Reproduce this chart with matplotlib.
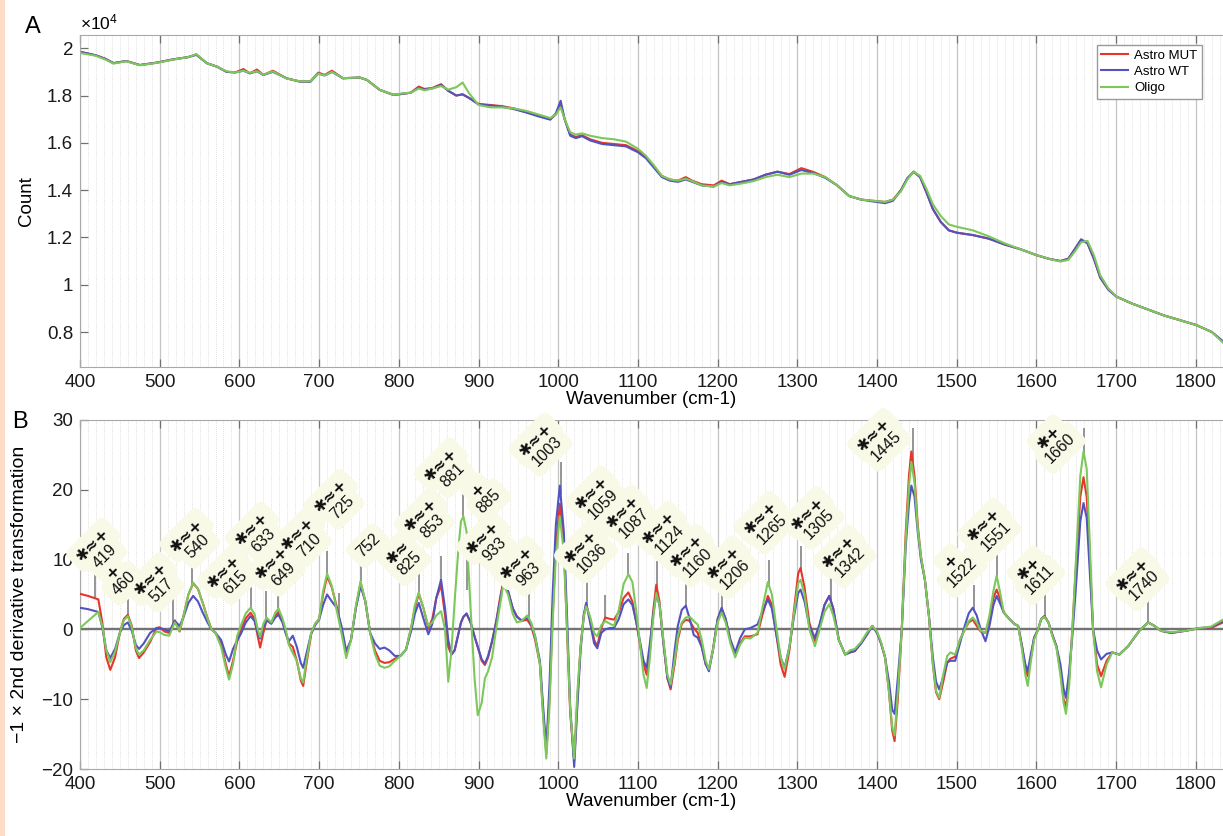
import numpy as np
import matplotlib.pyplot as plt
from matplotlib.patches import Rectangle
from matplotlib.ticker import MultipleLocator, FuncFormatter

plt.rcParams['font.family'] = ['Liberation Sans', 'DejaVu Sans']
plt.rcParams['mathtext.fontset'] = 'custom'
plt.rcParams['mathtext.rm'] = 'Liberation Sans'

series_names = ['Astro MUT', 'Astro WT', 'Oligo']
series_colors = ['#e8352b', '#5252c0', '#7cc85a']

# ---- panel A: raw spectra (counts x 1e4) ----
a_wn = [400, 420, 432, 442, 458, 475, 496, 517, 535, 546,
        559, 572, 584, 595, 605, 613, 622, 630, 642, 659,
        676, 689, 699, 707, 716, 730, 751, 760, 776, 793,
        802, 815, 825, 832, 842, 853, 862, 872, 880, 888,
        900, 915, 930, 945, 960, 975, 990, 997, 1003, 1008,
        1015, 1022, 1030, 1040, 1055, 1070, 1085, 1100, 1110, 1120,
        1130, 1140, 1150, 1160, 1168, 1180, 1195, 1205, 1215, 1230,
        1245, 1260, 1275, 1290, 1305, 1320, 1335, 1350, 1365, 1380,
        1395, 1410, 1420, 1430, 1438, 1446, 1454, 1462, 1470, 1480,
        1490, 1500, 1520, 1540, 1560, 1580, 1600, 1615, 1630, 1640,
        1648, 1656, 1664, 1672, 1680, 1690, 1700, 1720, 1740, 1760,
        1780, 1800, 1820, 1834]
a_mut = [1.985, 1.97, 1.955, 1.937, 1.946, 1.929, 1.939, 1.953, 1.962, 1.974,
         1.937, 1.922, 1.900, 1.898, 1.912, 1.894, 1.910, 1.887, 1.905, 1.873,
         1.859, 1.860, 1.897, 1.887, 1.905, 1.873, 1.876, 1.866, 1.824, 1.803,
         1.806, 1.812, 1.838, 1.828, 1.832, 1.848, 1.820, 1.800, 1.805, 1.790,
         1.765, 1.760, 1.755, 1.745, 1.730, 1.715, 1.700, 1.720, 1.765, 1.700,
         1.635, 1.625, 1.632, 1.615, 1.600, 1.595, 1.590, 1.565, 1.540, 1.500,
         1.460, 1.445, 1.440, 1.455, 1.440, 1.425, 1.420, 1.440, 1.425, 1.435,
         1.445, 1.465, 1.478, 1.468, 1.493, 1.477, 1.455, 1.420, 1.375, 1.360,
         1.355, 1.350, 1.360, 1.400, 1.450, 1.478, 1.455, 1.390, 1.320, 1.265,
         1.230, 1.220, 1.210, 1.195, 1.170, 1.150, 1.125, 1.110, 1.100, 1.110,
         1.150, 1.190, 1.175, 1.110, 1.030, 0.980, 0.950, 0.920, 0.895, 0.870,
         0.850, 0.830, 0.800, 0.760]
a_wt = [1.985, 1.97, 1.955, 1.937, 1.946, 1.929, 1.939, 1.953, 1.962, 1.972,
        1.937, 1.922, 1.900, 1.898, 1.905, 1.894, 1.902, 1.887, 1.900, 1.873,
        1.859, 1.858, 1.893, 1.885, 1.900, 1.873, 1.876, 1.866, 1.824, 1.803,
        1.806, 1.812, 1.833, 1.825, 1.830, 1.845, 1.820, 1.800, 1.805, 1.790,
        1.762, 1.758, 1.752, 1.742, 1.728, 1.712, 1.698, 1.725, 1.778, 1.700,
        1.630, 1.620, 1.628, 1.610, 1.595, 1.590, 1.585, 1.560, 1.535, 1.495,
        1.455, 1.440, 1.435, 1.445, 1.435, 1.420, 1.415, 1.435, 1.425, 1.435,
        1.445, 1.465, 1.478, 1.465, 1.485, 1.472, 1.452, 1.420, 1.375, 1.360,
        1.352, 1.345, 1.355, 1.400, 1.450, 1.478, 1.455, 1.390, 1.320, 1.265,
        1.230, 1.220, 1.210, 1.195, 1.170, 1.150, 1.125, 1.110, 1.100, 1.110,
        1.150, 1.192, 1.175, 1.110, 1.030, 0.980, 0.950, 0.920, 0.895, 0.870,
        0.850, 0.830, 0.800, 0.760]
a_oligo = [1.980, 1.968, 1.952, 1.935, 1.945, 1.928, 1.938, 1.952, 1.962, 1.975,
           1.937, 1.922, 1.902, 1.898, 1.905, 1.896, 1.903, 1.888, 1.902, 1.872,
           1.860, 1.860, 1.893, 1.885, 1.900, 1.874, 1.876, 1.866, 1.824, 1.803,
           1.808, 1.812, 1.830, 1.822, 1.830, 1.840, 1.825, 1.835, 1.855, 1.810,
           1.760, 1.750, 1.750, 1.745, 1.735, 1.720, 1.705, 1.720, 1.750, 1.700,
           1.645, 1.635, 1.640, 1.630, 1.620, 1.615, 1.605, 1.575, 1.545, 1.505,
           1.460, 1.445, 1.440, 1.448, 1.438, 1.420, 1.415, 1.430, 1.420, 1.428,
           1.438, 1.455, 1.465, 1.455, 1.470, 1.470, 1.455, 1.420, 1.375, 1.360,
           1.355, 1.350, 1.360, 1.395, 1.445, 1.478, 1.460, 1.405, 1.340, 1.290,
           1.255, 1.245, 1.230, 1.205, 1.175, 1.150, 1.125, 1.110, 1.098, 1.105,
           1.140, 1.180, 1.185, 1.125, 1.040, 0.985, 0.950, 0.920, 0.895, 0.870,
           0.850, 0.830, 0.800, 0.755]

# ---- panel B: -1 x 2nd derivative ----
b_wn = [400, 410, 423, 428, 433, 438, 444, 450, 455, 460,
        465, 470, 474, 480, 488, 496, 500, 506, 512, 519,
        525, 530, 536, 542, 548, 554, 560, 565, 570, 577,
        583, 587, 592, 597, 602, 608, 614, 619, 623, 626,
        630, 634, 640, 645, 649, 654, 658, 662, 667, 672,
        677, 680, 684, 690, 695, 700, 705, 710, 716, 722,
        728, 734, 740, 746, 752, 758, 764, 770, 776, 782,
        788, 795, 802, 809, 816, 820, 825, 831, 837, 842,
        847, 853, 858, 862, 866, 870, 875, 878, 881, 885,
        890, 895, 899, 904, 908, 912, 917, 922, 927, 931,
        937, 943, 948, 954, 961, 966, 971, 977, 981, 985,
        989, 993, 997, 1002, 1007, 1011, 1015, 1020, 1024, 1028,
        1032, 1035, 1040, 1045, 1049, 1054, 1059, 1065, 1070, 1076,
        1082, 1088, 1093, 1098, 1103, 1107, 1111, 1115, 1119, 1123,
        1127, 1132, 1137, 1141, 1146, 1150, 1155, 1160, 1165, 1170,
        1175, 1180, 1185, 1189, 1194, 1200, 1205, 1210, 1216, 1222,
        1228, 1234, 1241, 1250, 1256, 1263, 1268, 1274, 1279, 1284,
        1290, 1296, 1301, 1304, 1309, 1315, 1322, 1328, 1334, 1340,
        1345, 1352, 1360, 1366, 1372, 1380, 1387, 1394, 1400, 1405,
        1410, 1415, 1419, 1422, 1426, 1431, 1436, 1440, 1443, 1447,
        1451, 1455, 1460, 1465, 1470, 1474, 1478, 1483, 1488, 1492,
        1498, 1504, 1510, 1515, 1520, 1525, 1530, 1536, 1541, 1546,
        1550, 1554, 1559, 1566, 1572, 1577, 1582, 1586, 1589, 1593,
        1597, 1602, 1606, 1610, 1615, 1620, 1625, 1630, 1634, 1637,
        1641, 1645, 1650, 1655, 1659, 1663, 1667, 1671, 1676, 1681,
        1688, 1695, 1704, 1715, 1729, 1740, 1748, 1756, 1769, 1787,
        1805, 1819, 1834]
b_mut = [5.1, 4.8, 4.3, 1.0, -4.0, -5.8, -4.0, -0.5, 1.5, 2.1,
         0.5, -3.0, -4.1, -3.3, -1.8, 0.2, 0.3, -0.3, -0.5, 1.3,
         -0.3, 2.0, 5.0, 6.6, 5.8, 3.8, 1.6, 0.0, -0.5, -2.0,
         -5.0, -6.7, -4.5, -1.8, 0.0, 1.6, 2.4, 1.5, -1.0, -2.6,
         -0.5, 1.3, 1.0, 2.0, 2.5, 1.2, -0.5, -2.0, -2.5, -4.5,
         -7.3, -8.1, -5.0, -0.7, 0.8, 1.5, 5.0, 7.6, 6.0, 3.3,
         0.0, -3.4, -1.5, 3.0, 6.7, 4.0, -0.5, -3.0, -4.5, -4.8,
         -4.7, -4.2, -3.8, -2.9, 0.5, 3.0, 5.1, 3.0, 0.2, 1.5,
         4.5, 6.3, 2.0, -2.5, -3.6, -3.0, -0.5, 1.0, 1.8, 2.2,
         1.0, -1.0, -2.5, -4.5, -5.1, -4.0, -1.7, 1.0, 4.5, 6.9,
         5.5, 3.0, 1.9, 1.2, 1.4, 0.5, -1.5, -5.0, -12.0, -17.8,
         -10.0, 2.0, 12.0, 18.0, 12.0, 0.0, -12.0, -18.8, -10.0, -2.5,
         2.0, 3.6, 1.5, -1.5, -2.4, 0.2, 1.7, 1.5, 1.4, 2.5,
         4.5, 5.3, 4.0, 1.0, -2.5, -5.0, -6.5, -3.0, 2.5, 6.4,
         4.0, -2.0, -7.0, -8.6, -5.0, -1.5, 0.8, 1.4, 1.2, 0.2,
         -0.5, -2.5, -5.0, -5.7, -3.0, 1.5, 2.9, 1.5, -1.5, -3.6,
         -2.0, -1.0, -1.0, -0.7, 2.0, 4.8, 3.5, -1.0, -5.0, -6.8,
         -3.0, 3.0, 8.0, 8.8, 6.0, 1.0, -1.7, 0.5, 3.5, 4.8,
         3.0, -1.5, -3.6, -3.3, -3.1, -2.0, -0.8, 0.5, -0.5, -2.0,
         -4.0, -9.0, -14.5, -16.0, -10.0, 0.0, 14.0, 22.0, 25.5, 22.0,
         15.0, 10.5, 7.1, 2.0, -5.0, -9.0, -10.0, -7.5, -4.8, -4.2,
         -3.9, -1.5, 0.0, 1.0, 1.4, 0.5, -0.3, -0.5, 1.5, 4.5,
         5.7, 4.5, 2.4, 1.5, 0.8, 0.5, -2.5, -5.5, -6.7, -4.0,
         -1.2, 0.0, 1.5, 1.9, 1.0, -0.8, -2.4, -6.0, -10.0, -11.2,
         -7.0, 0.0, 10.0, 19.0, 21.8, 19.0, 10.0, 0.0, -5.0, -6.7,
         -4.5, -3.3, -3.6, -2.4, -0.2, 1.0, 0.5, -0.2, -0.5, -0.2,
         0.2, 0.2, 1.0]
b_wt = [3.1, 2.9, 2.5, 0.3, -3.0, -4.1, -2.8, -0.5, 0.6, 1.0,
        -0.2, -2.2, -2.8, -2.0, -0.5, 0.2, 0.2, 0.0, -0.3, 1.2,
        0.5, 1.8, 3.8, 4.8, 4.0, 2.4, 1.0, 0.0, -0.5, -1.5,
        -3.6, -4.6, -2.8, -1.6, -0.6, 1.0, 1.9, 1.2, -0.5, -1.3,
        0.3, 1.3, 0.8, 1.7, 2.1, 1.0, -0.5, -1.7, -0.9, -2.5,
        -4.8, -5.5, -3.5, -0.6, 0.6, 1.4, 3.5, 5.0, 4.0, 3.1,
        0.5, -3.1, -1.5, 3.0, 6.2, 4.0, -0.5, -2.0, -2.8, -2.6,
        -3.0, -3.8, -3.8, -2.9, 0.0, 2.2, 3.8, 1.5, -0.7, 0.8,
        4.5, 7.1, 3.0, -1.5, -3.6, -3.0, -0.5, 1.0, 1.8, 2.3,
        1.0, -1.0, -2.5, -4.3, -4.9, -3.8, -1.7, 1.0, 4.2, 6.7,
        5.5, 3.0, 1.8, 1.3, 1.7, 0.8, -1.0, -4.5, -11.0, -17.1,
        -8.0, 5.0, 15.0, 20.6, 14.0, 2.0, -11.0, -19.7, -11.0, -3.0,
        2.0, 3.8, 1.0, -2.0, -2.7, -0.5, 0.0, 0.2, 0.2, 1.5,
        3.6, 4.3, 3.5, 1.0, -2.0, -4.5, -5.5, -2.0, 2.0, 5.0,
        3.5, -2.0, -7.0, -8.3, -3.0, 0.5, 2.8, 3.4, 1.5, -0.8,
        -1.2, -2.5, -5.0, -6.0, -3.0, 1.5, 3.1, 1.5, -1.5, -3.3,
        -1.3, 0.0, 0.2, 0.7, 2.5, 4.3, 3.0, -1.0, -4.0, -5.5,
        -2.5, 2.0, 5.2, 5.7, 4.0, 0.5, -1.2, 0.8, 3.5, 4.8,
        3.0, -1.5, -3.6, -3.3, -3.1, -2.0, -0.8, 0.5, -0.5, -2.0,
        -4.0, -7.5, -11.5, -12.1, -7.0, 0.0, 12.0, 18.0, 20.6, 19.0,
        14.0, 10.0, 7.1, 2.0, -4.0, -7.5, -8.6, -6.8, -4.7, -4.5,
        -4.5, -2.0, 0.5, 2.3, 3.1, 2.0, 0.0, -1.7, 0.5, 3.5,
        4.8, 3.8, 2.4, 1.5, 0.8, 0.5, -2.5, -5.0, -6.0, -3.5,
        -1.2, 0.0, 1.5, 1.9, 1.0, -0.8, -2.4, -5.0, -8.5, -9.8,
        -6.0, -1.0, 7.0, 15.5, 18.1, 16.0, 8.0, 0.0, -3.0, -4.3,
        -3.5, -3.3, -3.6, -2.4, -0.2, 1.0, 0.5, -0.2, -0.5, -0.2,
        0.2, 0.3, 1.2]
b_oligo = [0.2, 1.2, 2.5, 0.5, -3.0, -4.7, -3.2, -0.5, 1.3, 1.9,
           0.3, -2.7, -3.6, -3.0, -1.5, -0.3, -0.4, -0.8, -0.9, 1.0,
           -0.2, 2.0, 5.0, 6.7, 5.8, 3.8, 1.5, 0.0, -0.5, -2.5,
           -5.5, -7.2, -5.0, -1.0, 0.6, 2.3, 3.1, 2.2, 0.0, -1.1,
           0.8, 1.7, 1.0, 2.4, 3.0, 1.6, 0.0, -2.2, -3.4, -4.5,
           -7.0, -7.6, -4.5, -0.5, 0.8, 1.5, 5.5, 8.0, 6.2, 2.8,
           -0.5, -4.1, -1.5, 3.3, 6.9, 4.0, -0.5, -3.5, -5.2, -5.5,
           -5.3, -4.5, -3.8, -2.9, 0.6, 3.4, 5.3, 3.0, 0.5, 1.0,
           2.0, 2.6, 0.0, -7.5, -3.0, 4.0, 12.0, 15.5, 16.2, 14.0,
           3.0, -7.0, -12.3, -10.5, -7.0, -6.0, -4.0, 0.0, 3.5, 6.4,
           5.0, 2.2, 1.0, 1.2, 2.0, 1.0, -1.0, -5.0, -12.5, -18.5,
           -11.0, 1.0, 10.5, 16.2, 11.0, 0.0, -11.5, -18.5, -9.0, -2.5,
           1.8, 3.3, 1.8, -0.5, -1.0, 0.6, 1.2, 0.8, 0.5, 2.8,
           6.5, 7.9, 6.8, 2.5, -2.5, -6.5, -8.4, -4.0, 1.5, 5.2,
           3.5, -1.5, -6.5, -7.9, -4.5, -1.0, 1.0, 1.7, 1.8, 1.2,
           0.7, -1.5, -4.5, -5.7, -3.0, 1.0, 2.4, 1.0, -2.0, -4.0,
           -2.2, -1.2, -1.3, -0.5, 3.0, 6.8, 5.0, 0.0, -4.0, -5.7,
           -2.5, 2.5, 6.6, 7.1, 5.0, 0.0, -2.4, 0.0, 2.5, 3.6,
           2.0, -1.5, -3.6, -3.0, -2.8, -1.8, -0.5, 0.5, -0.3, -1.8,
           -4.0, -9.0, -14.0, -15.2, -9.0, 0.0, 13.0, 20.5, 24.0, 21.0,
           14.5, 10.5, 7.1, 2.0, -5.0, -8.8, -9.8, -6.5, -3.8, -3.3,
           -3.6, -1.5, 0.0, 1.2, 1.7, 1.0, -0.2, -0.5, 2.0, 5.5,
           7.7, 5.5, 2.4, 1.5, 0.8, 0.5, -3.0, -6.5, -8.1, -4.5,
           -1.5, 0.0, 1.5, 1.8, 1.0, -1.0, -2.6, -6.5, -10.5, -12.1,
           -8.0, 0.0, 11.0, 22.0, 25.5, 23.0, 12.0, 0.0, -6.0, -8.3,
           -5.0, -3.3, -3.6, -2.4, -0.2, 1.0, 0.5, -0.2, -0.4, -0.2,
           0.2, 0.4, 1.4]

# annotated bands: wavenumber, significance marks, stem top
peak_wn = [419, 460, 517, 540, 615, 633, 649, 710, 725, 752, 825, 853, 881, 885,
           933, 963, 1003, 1036, 1059, 1087, 1124, 1160, 1206, 1265, 1305, 1342,
           1445, 1522, 1551, 1611, 1660, 1740]
peak_marks = ['✱≈+', '+', '✱≈+', '✱≈+', '✱≈+', '✱≈+', '✱≈+', '✱≈+', '✱≈+', '', '✱≈',
              '✱≈+', '✱≈+', '+', '✱≈+', '✱≈+', '✱≈+', '✱≈+', '✱≈+', '✱≈+', '✱≈+',
              '✱≈+', '✱≈+', '✱≈+', '✱≈+', '✱≈+', '✱≈+', '+', '✱≈+', '✱+', '✱+', '✱≈+']
peak_top = [7.9, 5.2, 4.5, 9.8, 6.2, 5.5, 6.2, 11.2, 5.2, 10.2, 8.6, 10.5, 19.8, 5.6,
            9.2, 5.4, 24.0, 7.1, 4.9, 11.0, 9.8, 6.7, 6.6, 10.0, 11.9, 8.1,
            28.8, 6.3, 11.0, 5.2, 28.8, 4.0]
# where each band number starts (baseline, left end)
label_x = [423, 447, 495, 540, 587, 622, 647, 680, 721, 754, 805, 834, 859, 905,
           912, 955, 974, 1031, 1045, 1083, 1129, 1164, 1210, 1256, 1315, 1355,
           1399, 1495, 1537, 1593, 1618, 1723]
label_y = [8.7, 4.8, 3.8, 10.1, 4.9, 11.0, 6.1, 10.3, 15.7, 10.2, 7.6, 13.0, 20.2, 16.6,
           9.7, 6.1, 23.3, 8.0, 15.7, 13.0, 10.7, 7.4, 5.7, 12.1, 12.8, 7.3,
           24.0, 5.9, 11.1, 4.9, 23.7, 4.0]

W, H = 1223, 836
FS = 13.5
fig = plt.figure(figsize=(W / 100, H / 100), dpi=100)
fig.patches.append(Rectangle((0, 0), 5 / W, 1, transform=fig.transFigure,
                             facecolor='#fcdcc6', edgecolor='none'))

axA = fig.add_axes([80 / W, 1 - 367 / H, 1 - 80 / W, 332 / H])
axB = fig.add_axes([80 / W, 1 - 769 / H, 1 - 80 / W, 349 / H])


def style(ax):
    ax.set_xlim(400, 1834)
    ax.xaxis.set_major_locator(MultipleLocator(100))
    ax.xaxis.set_minor_locator(MultipleLocator(10))
    ax.grid(which='major', axis='x', color='#c4c4c4', lw=0.9)
    ax.grid(which='minor', axis='x', color='#d6d6d6', lw=0.6, ls=(0, (1, 1.5)))
    ax.set_axisbelow(True)
    ax.tick_params(which='both', direction='in', top=True, right=False,
                   color='#707070', labelcolor='#1a1a1a', labelsize=FS, pad=5)
    ax.tick_params(which='minor', length=0)
    ax.tick_params(which='major', length=6, width=0.9)
    for s in ax.spines.values():
        s.set_color('#a8a8a8')
    ax.spines['right'].set_visible(False)
    ax.set_xlabel('Wavenumber (cm-1)', fontsize=FS, labelpad=0)


# panel A
for vals, name, c in zip([a_mut, a_wt, a_oligo], series_names, series_colors):
    axA.plot(a_wn, vals, color=c, lw=1.5, label=name)
style(axA)
axA.set_ylim(0.652, 2.056)
axA.set_yticks(np.arange(0.8, 2.01, 0.2))
axA.yaxis.set_major_formatter(FuncFormatter(lambda v, p: f'{v:g}'))
axA.set_ylabel('Count', fontsize=FS)
axA.yaxis.set_label_coords(-0.039, 0.5)
axA.text(0, 1.008, r'$\mathregular{\times10^{4}}$', transform=axA.transAxes,
         fontsize=FS - 1, ha='left', va='bottom')
axA.legend(loc='upper right', bbox_to_anchor=(0.9816, 0.970), borderaxespad=0,
           fontsize=9.5, fancybox=False, edgecolor='#9a9a9a', framealpha=1,
           handlelength=2.0, borderpad=0.35, labelspacing=0.3, handletextpad=0.5)

# panel B
axB.axhline(0, color='#737373', lw=1.7, zorder=1.5)
for vals, name, c in zip([b_mut, b_wt, b_oligo], series_names, series_colors):
    axB.plot(b_wn, vals, color=c, lw=1.5, label=name, zorder=3)
style(axB)
axB.set_ylim(-20, 30)
axB.set_yticks(np.arange(-20, 31, 10))
axB.set_ylabel('\u22121 \u00d7 2nd derivative transformation', fontsize=FS + 0.5)
axB.yaxis.set_label_coords(-0.0455, 0.5)

stem_base = np.max([np.interp(peak_wn, b_wn, s) for s in (b_mut, b_wt, b_oligo)], axis=0)
axB.vlines(peak_wn, stem_base, peak_top, color='#8c8c8c', lw=1.3, zorder=2.5)

lfs = 11.5
box = dict(boxstyle='round,pad=0.45', fc='#f9f9e7', ec='none')
c45 = np.cos(np.pi / 4)
# pass 0 draws the cream boxes only, pass 1 the text on top of them
for layer in (0, 1):
    kw = dict(bbox=box, color='none', zorder=4) if layer == 0 else dict(color='#111111', zorder=5)
    for wn, mark, lx, ly in zip(peak_wn, peak_marks, label_x, label_y):
        num = str(wn)
        axB.annotate(num, (lx, ly), rotation=45, rotation_mode='anchor',
                     ha='left', va='baseline', fontsize=lfs, **kw)
        if mark:
            half = len(num) * 0.556 * lfs / 2
            up = 0.36 * lfs + 10.5
            off = ((half - up) * c45, (half + up) * c45)
            axB.annotate(mark, (lx, ly), xytext=off, textcoords='offset points',
                         rotation=45, rotation_mode='anchor', ha='center', va='center',
                         fontsize=lfs, fontweight='bold', family='DejaVu Sans', **kw)

fig.text(25 / W, 1 - 27 / H, 'A', fontsize=17, va='center', ha='left')
fig.text(12 / W, 1 - 422 / H, 'B', fontsize=17, va='center', ha='left')

fig.savefig('out.png', dpi=100)
